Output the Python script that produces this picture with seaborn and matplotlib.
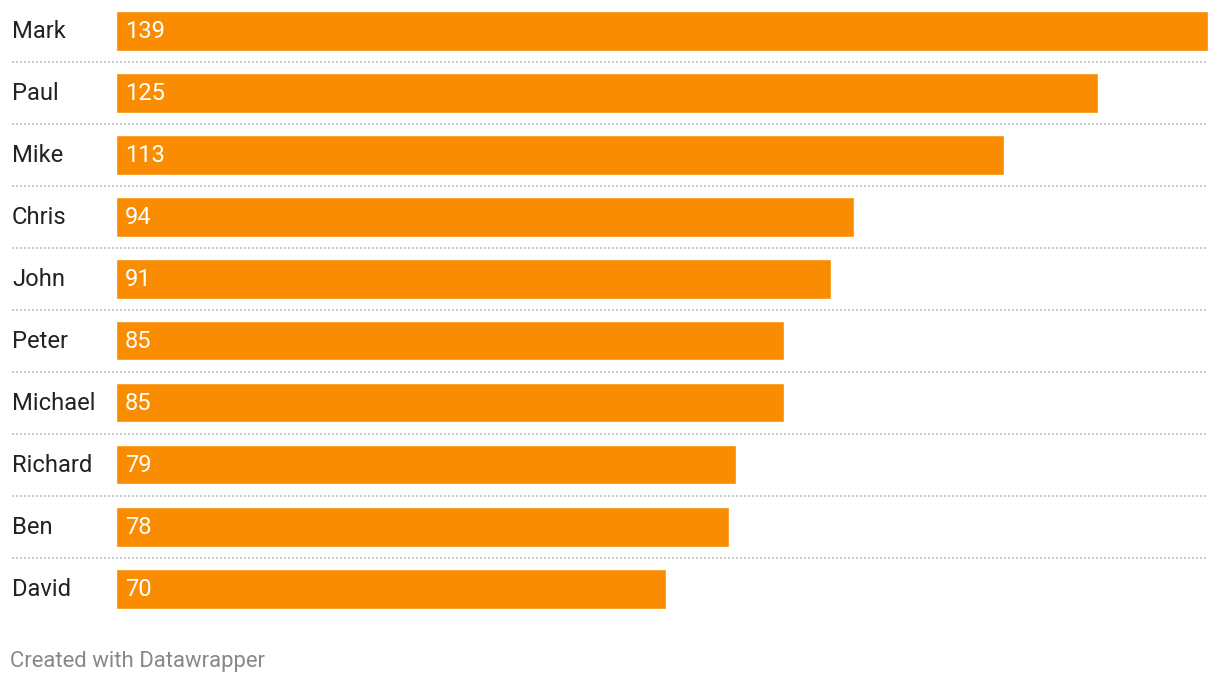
import matplotlib
matplotlib.use("Agg")
import matplotlib.pyplot as plt
import seaborn as sns
import pandas as pd

names = ["Mark", "Paul", "Mike", "Chris", "John", "Peter", "Michael", "Richard", "Ben", "David"]
values = [139, 125, 113, 94, 91, 85, 85, 79, 78, 70]

df = pd.DataFrame({"name": names, "value": values})

sns.set_theme(style="white")
plt.rcParams["font.family"] = ["Roboto", "DejaVu Sans"]

W, H = 1220, 684
fig = plt.figure(figsize=(W / 100, H / 100), dpi=100)
ax = fig.add_axes([115.5 / W, 1 - 619.5 / H, (1208 - 115.5) / W, 620 / H])

sns.barplot(data=df, x="value", y="name", orient="h", color="#F98C00",
            saturation=1, width=40 / 62, ax=ax)
ax.set_xlim(0, 139)
ax.set_ylim(9.5, -0.5)
for s in ax.spines.values():
    s.set_visible(False)
ax.set_xticks([])
ax.set_yticks([])
ax.set_xlabel("")
ax.set_ylabel("")

xmin_frac = (12 - 115.5) / (1208 - 115.5)
for i in range(len(names) - 1):
    ax.axhline(i + 0.5, xmin=xmin_frac, xmax=1, color="#cccccc",
               linewidth=1.44, linestyle=(0, (1, 1)), clip_on=False, zorder=0)

fs = 17.1
dy = -1.5 * 0.72
for i, (n, v) in enumerate(zip(names, values)):
    ax.annotate(n, xy=(0, i), xycoords=("axes fraction", "data"),
                xytext=(-103.5 * 0.72, dy), textcoords="offset points",
                ha="left", va="center", fontsize=fs, color="#222222")
    ax.annotate(str(v), xy=(0, i), xycoords="data",
                xytext=(9.5 * 0.72, dy), textcoords="offset points",
                ha="left", va="center", fontsize=fs, color="white")

fig.text(10 / W, 1 - 662 / H, "Created with Datawrapper", ha="left", va="center",
         fontsize=15.9, color="#888888")

fig.savefig("out.png", dpi=100)
